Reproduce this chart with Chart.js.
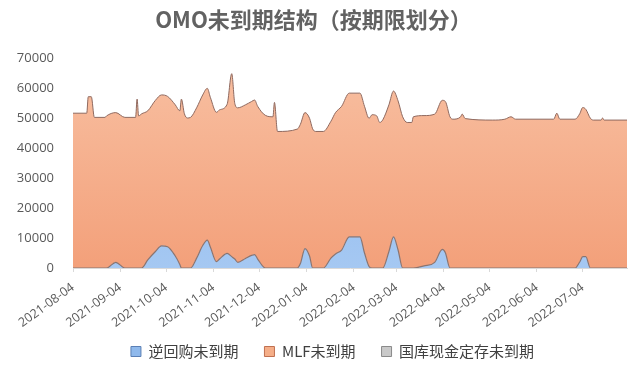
<!DOCTYPE html>
<html>
<head>
<meta charset="utf-8">
<script src="https://cdn.jsdelivr.net/npm/chart.js@4.4.1/dist/chart.umd.min.js"></script>
<style>
  html, body { margin: 0; padding: 0; background: #fff; }
  #wrap { width: 640px; height: 381px; }
</style>
</head>
<body>
<div id="wrap"><canvas id="omo"></canvas></div>
<script>
//start of the x axis, every point is counted in days from here
const startDate = "2021-08-04";
const tickLabels = ["2021-08-04", "2021-09-04", "2021-10-04", "2021-11-04", "2021-12-04", "2022-01-04",
    "2022-02-04", "2022-03-04", "2022-04-04", "2022-05-04", "2022-06-04", "2022-07-04"];
const seriesNames = ["逆回购未到期", "MLF未到期", "国库现金定存未到期"];
//(days after startDate)
const dayOffsets = [0, 9, 10, 12, 14, 21, 22, 28, 34, 41, 42, 43, 45, 49, 54, 58, 62, 67, 70, 71,
    73, 75, 77, 81, 85, 88, 90, 94, 96, 101, 104, 106, 108, 113, 117, 119, 121, 126, 131, 132,
    134, 147, 149, 152, 155, 157, 159, 164, 169, 172, 176, 181, 188, 191, 194, 196, 199, 201, 203, 207,
    210, 213, 216, 219, 222, 223, 230, 237, 242, 244, 247, 249, 254, 255, 257, 275, 283, 287, 290, 315,
    317, 319, 329, 332, 334, 336, 339, 341, 346, 347, 348, 363];
//逆回购 (reverse repo) outstanding
const repoValues = [0, 0, 0, 0, 0, 0, 0, 1900, 0, 0, 0, 0, 0, 2700, 5500, 7400, 7100, 4000, 1200, 0,
    0, 0, 0, 3300, 7500, 9300, 7000, 2100, 3000, 4900, 3800, 3000, 1900, 3200, 4200, 4500, 3000, 0, 0, 0,
    0, 0, 1500, 6500, 4000, 0, 0, 0, 3300, 4700, 6000, 10400, 10400, 5000, 500, 0, 0, 0, 0, 5500,
    10400, 6000, 0, 0, 0, 0, 700, 1900, 6200, 5100, 0, 0, 0, 0, 0, 0, 0, 0, 0, 0,
    0, 0, 0, 2000, 3800, 3800, 0, 0, 0, 0, 0, 0];
//MLF outstanding, stacked on top of the repo
const mlfValues = [51700, 51700, 57200, 57200, 50300, 50300, 50800, 50000, 50300, 50300, 56400, 50800, 51500, 49800, 50500, 50400, 50200, 50500, 51300, 56400,
    51500, 50100, 50300, 50200, 50300, 50700, 50000, 49900, 49800, 49800, 61100, 52000, 51600, 51300, 51400, 51600, 51000, 51000, 50500, 55300,
    45600, 46400, 46500, 45400, 46000, 46500, 45600, 45600, 45700, 47200, 48000, 48000, 48000, 49000, 49500, 51200, 50800, 48600, 49500, 49000,
    48700, 49800, 50500, 48600, 48600, 50500, 50200, 49500, 49800, 50500, 50500, 49700, 50500, 51400, 49900, 49400, 49700, 50500, 49700, 49700,
    51700, 49700, 49700, 49500, 49800, 49200, 50000, 49400, 49400, 50100, 49400, 49400];
//国库现金定存 is empty over the whole period
const depositValues = new Array(dayOffsets.length).fill(0);

const legendFill = ["#8fb9ec", "#f5ae88", "#c9c9c9"];
const legendStroke = ["#5a7fb5", "#c07050", "#8a8a8a"];

function dayOf(dateStr){
    return Math.round((Date.parse(dateStr) - Date.parse(startDate)) / 86400000);
}
const tickDays = tickLabels.map(dayOf);

function pts(values){
    return dayOffsets.map((d, i) => ({x: d, y: values[i]}));
}

function vGradient(ctx, top, bottom){
    const area = ctx.chart.chartArea;
    if(!area) return bottom;
    const g = ctx.chart.ctx.createLinearGradient(0, area.top, 0, area.bottom);
    g.addColorStop(0, top);
    g.addColorStop(1, bottom);
    return g;
}

const cjkFont = "'Noto Sans CJK SC', 'Noto Sans', sans-serif";
const numFont = "'Open Sans', 'Noto Sans', sans-serif";

//legend in the picture sits a bit right of centre and closer to the axis labels
const legendShift = {
    id: "legendShift",
    afterLayout(chart){
        chart.legend.left += 19;
        chart.legend.right += 19;
        chart.legend.top -= 12;
        chart.legend.bottom -= 12;
    }
};

new Chart(document.getElementById("omo"), {
    type: "line",
    plugins: [legendShift],
    data: {
        datasets: [{
            label: seriesNames[0],
            data: pts(repoValues),
            backgroundColor: (c) => vGradient(c, "#86b3ee", "#a5c8f2"),
            borderColor: "#8a7470",
            borderWidth: 1.2,
            fill: "origin",
            pointRadius: 0,
            cubicInterpolationMode: "monotone"
        },{
            label: seriesNames[1],
            data: pts(mlfValues),
            backgroundColor: (c) => vGradient(c, "#f8c0a2", "#f3a07a"),
            borderColor: "#8f6a60",
            borderWidth: 1,
            fill: "-1",
            pointRadius: 0,
            cubicInterpolationMode: "monotone"
        },{
            label: seriesNames[2],
            data: pts(depositValues),
            backgroundColor: "#c9c9c9",
            borderWidth: 0,
            fill: false,
            pointRadius: 0
        }]
    },
    options: {
        responsive: true,
        maintainAspectRatio: false,
        animation: false,
        layout: {padding: {left: 0, right: 13, top: 0, bottom: 0}},
        plugins: {
            title: {
                display: true,
                text: "OMO未到期结构（按期限划分）",
                color: "#626262",
                font: {family: cjkFont, size: 22, weight: "bold"},
                padding: {top: 6, bottom: 26}
            },
            legend: {
                position: "bottom",
                labels: {
                    color: "#404040",
                    font: {family: cjkFont, size: 15},
                    boxWidth: 10,
                    boxHeight: 10,
                    padding: 26,
                    generateLabels: (chart) => {
                        const items = Chart.defaults.plugins.legend.labels.generateLabels(chart);
                        items.forEach((it, i) => {
                            it.fillStyle = legendFill[i];
                            it.strokeStyle = legendStroke[i];
                            it.lineWidth = 1;
                        });
                        return items;
                    }
                }
            },
            tooltip: {enabled: false}
        },
        scales: {
            x: {
                type: "linear",
                min: 0,
                max: 363,
                afterBuildTicks: (scale) => {
                    scale.ticks = tickDays.map(v => ({value: v}));
                },
                afterFit: (scale) => { scale.height = 62; },
                ticks: {
                    autoSkip: false,
                    minRotation: 36,
                    maxRotation: 36,
                    color: "#595959",
                    font: {family: numFont, size: 12.5},
                    padding: 8,
                    callback: (value, i) => tickLabels[i]
                },
                grid: {
                    display: true,
                    drawOnChartArea: false,
                    drawTicks: true,
                    tickLength: 4,
                    color: "#d9d9d9"
                },
                border: {display: true, color: "#d9d9d9"}
            },
            y: {
                stacked: true,
                min: 0,
                max: 70000,
                afterFit: (scale) => { scale.width = 73; },
                ticks: {
                    stepSize: 10000,
                    color: "#595959",
                    font: {family: numFont, size: 13},
                    padding: 11,
                    callback: (value) => String(value)
                },
                grid: {display: false},
                border: {display: false}
            }
        }
    }
});
</script>
</body>
</html>
